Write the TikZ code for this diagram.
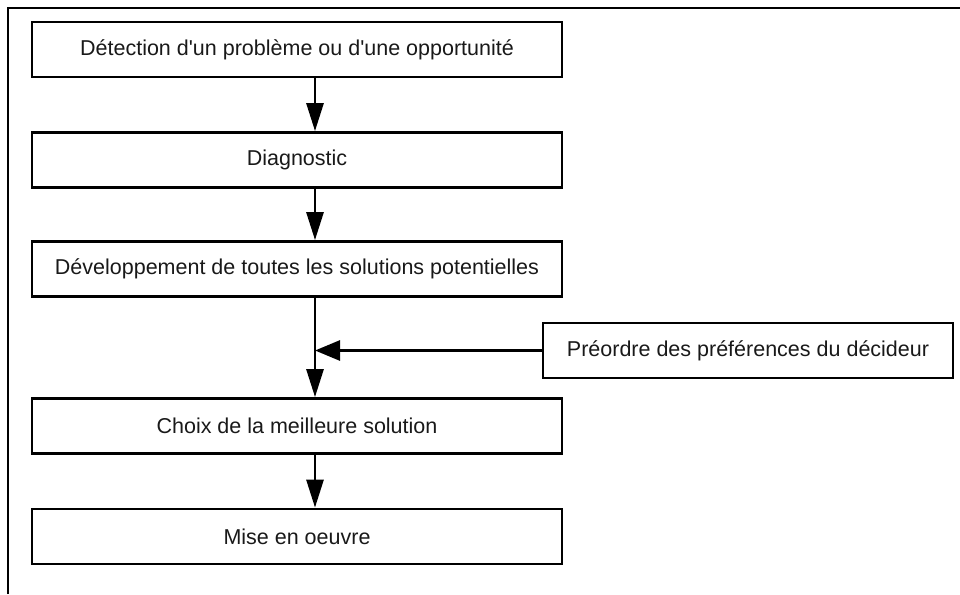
\documentclass[tikz,border=0pt]{standalone}
\usepackage{fontspec}
\setmainfont{Liberation Sans}
\usetikzlibrary{arrows.meta}
\begin{document}
\begin{tikzpicture}[x=1pt,y=-1pt,
  box/.style={draw=black,line width=2.8pt,minimum width=530pt,minimum height=55pt,inner sep=0pt,
    font=\fontsize{21.5}{26}\selectfont,text=black!90},
  prefbox/.style={box,minimum width=410pt},
  varr/.style={line width=2.8pt,-{Triangle[length=28pt,width=17pt]}},
  harr/.style={line width=2.8pt,-{Triangle[length=25pt,width=20pt]}},
  frame/.style={line width=2.2pt}]
\useasboundingbox (0,0) rectangle (960,594);
\draw[frame] (8,594) -- (8,8) -- (960,8);
\node[box] (b1) at (297,49.5) {Détection d\textquotesingle un problème ou d\textquotesingle une opportunité};
\node[box] (b2) at (297,160) {Diagnostic};
\node[box] (b3) at (297,269) {Développement de toutes les solutions potentielles};
\node[box] (b4) at (297,426) {Choix de la meilleure solution};
\node[box] (b5) at (297,536.5) {Mise en oeuvre};
\node[prefbox] (pref) at (748,350.5) {Préordre des préférences du décideur};
\coordinate (ax) at (315,0);
\draw[varr] (b1.south -| ax) -- (b2.north -| ax);
\draw[varr] (b2.south -| ax) -- (b3.north -| ax);
\draw[varr] (b3.south -| ax) -- (b4.north -| ax);
\draw[varr] (b4.south -| ax) -- (b5.north -| ax);
\draw[harr] (pref.west) -- (pref.west -| ax);
\end{tikzpicture}
\end{document}
